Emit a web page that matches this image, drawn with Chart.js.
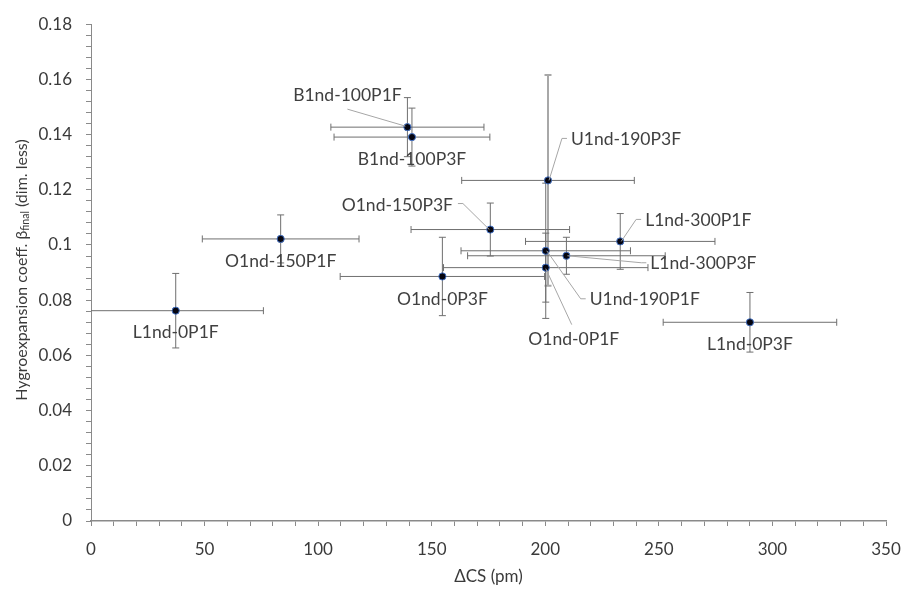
<!DOCTYPE html>
<html>
<head>
<meta charset="utf-8">
<script src="https://cdn.jsdelivr.net/npm/chart.js@4.4.1/dist/chart.umd.min.js"></script>
<style>
    body { margin: 0; background: #fff; }
    #wrap { width: 917px; height: 589px; position: relative; }
</style>
</head>
<body>
<div id="wrap"><canvas id="chart"></canvas></div>
<script>
// ============================================================================
// Data
// ============================================================================
const sampleNames = ['L1nd-0P1F', 'O1nd-150P1F', 'B1nd-100P1F', 'B1nd-100P3F', 'U1nd-190P3F', 'O1nd-150P3F',
                     'L1nd-300P1F', 'U1nd-190P1F', 'L1nd-300P3F', 'O1nd-0P1F', 'O1nd-0P3F', 'L1nd-0P3F'];
const deltaCS = [37.3, 83.5, 139.3, 141.3, 201.2, 175.8, 233.0, 200.2, 209.3, 200.2, 154.7, 290.1];
const betaFinal = [0.0762, 0.1022, 0.1427, 0.1391, 0.1234, 0.1056, 0.1013, 0.0979, 0.0961, 0.0918, 0.0886, 0.0720];
const deltaCSErr = [38.6, 34.5, 33.7, 34.3, 38.0, 34.9, 41.7, 37.3, 43.5, 45.0, 45.0, 38.2];
const betaErr = [0.0135, 0.0087, 0.0107, 0.0105, 0.0382, 0.0096, 0.0101, 0.0245, 0.0067, 0.0125, 0.0142, 0.0108];

const xTickLabels = [0, 50, 100, 150, 200, 250, 300, 350];
const yTickLabels = [0, 0.02, 0.04, 0.06, 0.08, 0.1, 0.12, 0.14, 0.16, 0.18];

// Label placement (pixel offset from the marker to the text centre, leader side)
const labelPlacement = {
    'L1nd-0P1F':   { dx: 0,    dy: 22 },
    'O1nd-150P1F': { dx: 0,    dy: 22 },
    'B1nd-100P1F': { dx: -60,  dy: -32, leader: 'bottom' },
    'B1nd-100P3F': { dx: 0,    dy: 22 },
    'U1nd-190P3F': { dx: 78,   dy: -41, leader: 'left' },
    'O1nd-150P3F': { dx: -93,  dy: -24, leader: 'right' },
    'L1nd-300P1F': { dx: 78,   dy: -21, leader: 'left' },
    'U1nd-190P1F': { dx: 99,   dy: 49,  leader: 'left' },
    'L1nd-300P3F': { dx: 137,  dy: 8,   leader: 'left' },
    'O1nd-0P1F':   { dx: 28,   dy: 72,  leader: 'top' },
    'O1nd-0P3F':   { dx: 0,    dy: 23 },
    'L1nd-0P3F':   { dx: 0,    dy: 22 }
};

const FONT = "Lato, 'Open Sans', sans-serif";
const TEXT_COLOR = '#3a3a3a';
const AXIS_COLOR = '#8a8a8a';

// ============================================================================
// Plugins
// ============================================================================

// Error bars in both directions, drawn under the markers
const errorBarPlugin = {
    id: 'errorBars',
    beforeDatasetsDraw(chart) {
        const { ctx, chartArea, scales: { x, y } } = chart;
        ctx.save();
        ctx.beginPath();
        ctx.rect(chartArea.left, chartArea.top, chartArea.width, chartArea.height);
        ctx.clip();
        sampleNames.forEach((name, i) => {
            const px = x.getPixelForValue(deltaCS[i]);
            const py = y.getPixelForValue(betaFinal[i]);
            const xl = x.getPixelForValue(deltaCS[i] - deltaCSErr[i]);
            const xr = x.getPixelForValue(deltaCS[i] + deltaCSErr[i]);
            const yt = y.getPixelForValue(betaFinal[i] + betaErr[i]);
            const yb = y.getPixelForValue(betaFinal[i] - betaErr[i]);

            // horizontal
            ctx.strokeStyle = '#6f6f6f';
            ctx.lineWidth = 1;
            ctx.beginPath();
            ctx.moveTo(xl, py); ctx.lineTo(xr, py);
            ctx.moveTo(xl, py - 3.5); ctx.lineTo(xl, py + 3.5);
            ctx.moveTo(xr, py - 3.5); ctx.lineTo(xr, py + 3.5);
            ctx.stroke();

            // vertical (the large U1nd-190P3F bar is lighter and thicker)
            if (name === 'U1nd-190P3F') {
                ctx.strokeStyle = '#a8a8a8';
                ctx.lineWidth = 2;
            }
            ctx.beginPath();
            ctx.moveTo(px, yt); ctx.lineTo(px, yb);
            ctx.moveTo(px - 3.5, yt); ctx.lineTo(px + 3.5, yt);
            ctx.moveTo(px - 3.5, yb); ctx.lineTo(px + 3.5, yb);
            ctx.stroke();
        });
        ctx.restore();
    }
};

// Data labels with Excel-style leader lines
const dataLabelPlugin = {
    id: 'dataLabels',
    afterDatasetsDraw(chart) {
        const { ctx, scales: { x, y } } = chart;
        ctx.save();
        ctx.font = `17.5px ${FONT}`;
        ctx.textAlign = 'center';
        ctx.textBaseline = 'middle';
        sampleNames.forEach((name, i) => {
            const p = labelPlacement[name];
            const px = x.getPixelForValue(deltaCS[i]);
            const py = y.getPixelForValue(betaFinal[i]);
            const cx = px + p.dx;
            const cy = py + p.dy;
            const w = ctx.measureText(name).width;

            if (p.leader) {
                ctx.strokeStyle = '#a6a6a6';
                ctx.lineWidth = 1;
                ctx.beginPath();
                if (p.leader === 'left') {
                    const sx = cx - w / 2 - 4;
                    ctx.moveTo(sx, cy - 1); ctx.lineTo(sx - 5, cy - 1); ctx.lineTo(px + 1, py);
                } else if (p.leader === 'right') {
                    const sx = cx + w / 2 + 5;
                    ctx.moveTo(sx, cy - 2); ctx.lineTo(sx + 5, cy - 2); ctx.lineTo(px - 1, py);
                } else if (p.leader === 'bottom') {
                    ctx.moveTo(cx, cy + 14); ctx.lineTo(px - 2, py - 1);
                } else if (p.leader === 'top') {
                    ctx.moveTo(cx - 2, cy - 15); ctx.lineTo(px, py + 1);
                }
                ctx.stroke();
            }

            ctx.fillStyle = '#404040';
            ctx.fillText(name, cx, cy);
        });
        ctx.restore();
    }
};

// Axis titles (y title needs a subscript)
const axisTitlePlugin = {
    id: 'axisTitles',
    afterDraw(chart) {
        const { ctx, chartArea } = chart;
        ctx.save();
        ctx.fillStyle = TEXT_COLOR;
        ctx.textBaseline = 'middle';

        // x title
        ctx.font = `17px ${FONT}`;
        ctx.textAlign = 'center';
        ctx.fillText('\u0394CS (pm)', (chartArea.left + chartArea.right) / 2, 577);

        // y title, rotated
        const parts = [
            { t: 'Hygroexpansion coeff. \u03b2', size: 16, shift: 0 },
            { t: 'final', size: 10.5, shift: 4 },
            { t: ' (dim. less)', size: 16, shift: 0 }
        ];
        let total = 0;
        parts.forEach(p => { ctx.font = `${p.size}px ${FONT}`; p.w = ctx.measureText(p.t).width; total += p.w; });
        ctx.translate(22, 270);
        ctx.rotate(-Math.PI / 2);
        ctx.textAlign = 'left';
        let cur = -total / 2;
        parts.forEach(p => {
            ctx.font = `${p.size}px ${FONT}`;
            ctx.fillText(p.t, cur, p.shift);
            cur += p.w;
        });
        ctx.restore();
    }
};

// ============================================================================
// Chart
// ============================================================================
const isLabelTick = (v, list) => list.some(t => Math.abs(t - v) < 1e-7);

new Chart(document.getElementById('chart'), {
    type: 'scatter',
    data: {
        datasets: [{
            data: deltaCS.map((v, i) => ({ x: v, y: betaFinal[i] })),
            backgroundColor: '#050510',
            borderColor: '#4472c4',
            borderWidth: 1,
            pointRadius: 3.6,
            pointHoverRadius: 3.6
        }]
    },
    options: {
        responsive: true,
        maintainAspectRatio: false,
        animation: false,
        layout: { padding: { top: 16, right: 31, left: 0, bottom: 0 } },
        plugins: { legend: { display: false }, tooltip: { enabled: false } },
        scales: {
            x: {
                type: 'linear',
                min: 0, max: 350,
                border: { color: AXIS_COLOR, width: 1.5 },
                grid: { drawOnChartArea: false, drawTicks: true, tickLength: 5, color: AXIS_COLOR },
                ticks: {
                    stepSize: 10,
                    autoSkip: false,
                    maxRotation: 0,
                    padding: 13,
                    color: TEXT_COLOR,
                    font: { family: FONT, size: 17 },
                    callback: v => isLabelTick(v, xTickLabels) ? String(v) : ''
                },
                afterFit: s => { s.height = 68; }
            },
            y: {
                type: 'linear',
                min: 0, max: 0.18,
                border: { color: AXIS_COLOR, width: 1 },
                grid: { drawOnChartArea: false, drawTicks: true, tickLength: 5, color: AXIS_COLOR },
                ticks: {
                    stepSize: 0.004,
                    autoSkip: false,
                    padding: 14,
                    color: TEXT_COLOR,
                    font: { family: FONT, size: 17 },
                    callback: v => isLabelTick(v, yTickLabels) ? String(Math.round(v * 100) / 100) : ''
                },
                afterFit: s => { s.width = 91; }
            }
        }
    },
    plugins: [errorBarPlugin, dataLabelPlugin, axisTitlePlugin]
});
</script>
</body>
</html>
